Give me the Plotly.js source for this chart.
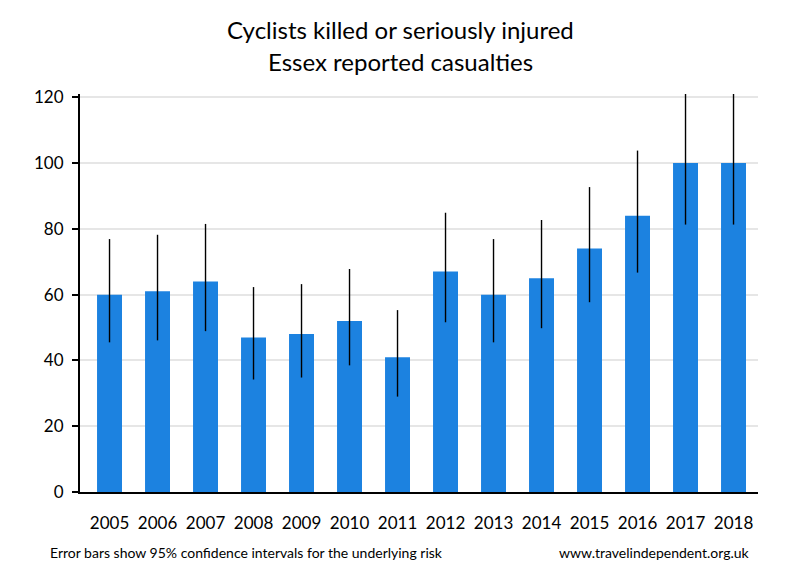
<!DOCTYPE html>
<html>
<head>
<meta charset="utf-8">
<script src="https://cdn.plot.ly/plotly-3.0.1.min.js"></script>
<style>html,body{margin:0;padding:0;background:#fff;}#chart{width:800px;height:580px;}</style>
</head>
<body>
<div id="chart"></div>
<script>
var years = ["2005","2006","2007","2008","2009","2010","2011","2012","2013","2014","2015","2016","2017","2018"];
var casualties = [60, 61, 64, 47, 48, 52, 41, 67, 60, 65, 74, 84, 100, 100];
var ciUpper = [76.9, 78.2, 81.5, 62.3, 63.2, 67.8, 55.3, 84.9, 76.9, 82.7, 92.7, 103.8, 122, 122];
var ciLower = [45.5, 46.1, 48.9, 34.2, 34.8, 38.5, 29.0, 51.6, 45.5, 49.8, 57.7, 66.7, 81.3, 81.3];
var yTicks = [0, 20, 40, 60, 80, 100, 120];
var titleLines = ['Cyclists killed or seriously injured', 'Essex reported casualties'];

var errPlus = casualties.map(function(v, i){ return ciUpper[i] - v; });
var errMinus = casualties.map(function(v, i){ return v - ciLower[i]; });

var font = "Lato, 'Open Sans', sans-serif";

var trace = {
  type: 'bar',
  x: years,
  y: casualties,
  width: 0.52,
  marker: {color: '#1c82e0'},
  error_y: {
    type: 'data',
    symmetric: false,
    array: errPlus,
    arrayminus: errMinus,
    color: '#000000',
    thickness: 1.4,
    width: 0
  },
  hoverinfo: 'x+y'
};

var layout = {
  width: 800,
  height: 580,
  paper_bgcolor: '#ffffff',
  plot_bgcolor: '#ffffff',
  margin: {l: 80, r: 42, t: 94, b: 88, pad: 0},
  showlegend: false,
  font: {family: font, color: '#000000', size: 17},
  xaxis: {
    type: 'category',
    range: [-0.615, 13.51],
    showgrid: false,
    showline: true,
    linecolor: '#000000',
    linewidth: 2,
    ticks: '',
    ticklabelstandoff: 15,
    tickfont: {family: font, size: 17, color: '#000000'},
    fixedrange: true
  },
  yaxis: {
    range: [0, 121],
    tickvals: yTicks,
    ticktext: yTicks.map(String),
    showgrid: true,
    gridcolor: '#e6e6e6',
    gridwidth: 2,
    zeroline: false,
    showline: true,
    linecolor: '#000000',
    linewidth: 2,
    ticks: 'outside',
    ticklen: 6,
    tickwidth: 2,
    tickcolor: '#000000',
    ticklabelstandoff: 5,
    tickfont: {family: font, size: 17, color: '#000000'},
    fixedrange: true
  },
  annotations: [
    {text: titleLines[0], xref: 'paper', yref: 'paper', x: 0.472, y: 1.1633,
     xanchor: 'center', yanchor: 'middle', showarrow: false,
     font: {family: font, size: 24, color: '#000000'}},
    {text: titleLines[1], xref: 'paper', yref: 'paper', x: 0.472, y: 1.0829,
     xanchor: 'center', yanchor: 'middle', showarrow: false,
     font: {family: font, size: 24, color: '#000000'}},
    {text: 'Error bars show 95% confidence intervals for the underlying risk', xref: 'paper', yref: 'paper',
     x: -0.047, y: -0.153, xanchor: 'left', yanchor: 'middle', showarrow: false,
     font: {family: font, size: 14, color: '#000000'}},
    {text: 'www.travelindependent.org.uk', xref: 'paper', yref: 'paper',
     x: 0.9915, y: -0.153, xanchor: 'right', yanchor: 'middle', showarrow: false,
     font: {family: font, size: 14, color: '#000000'}}
  ]
};

Plotly.newPlot('chart', [trace], layout, {displayModeBar: false, staticPlot: true});
</script>
</body>
</html>
